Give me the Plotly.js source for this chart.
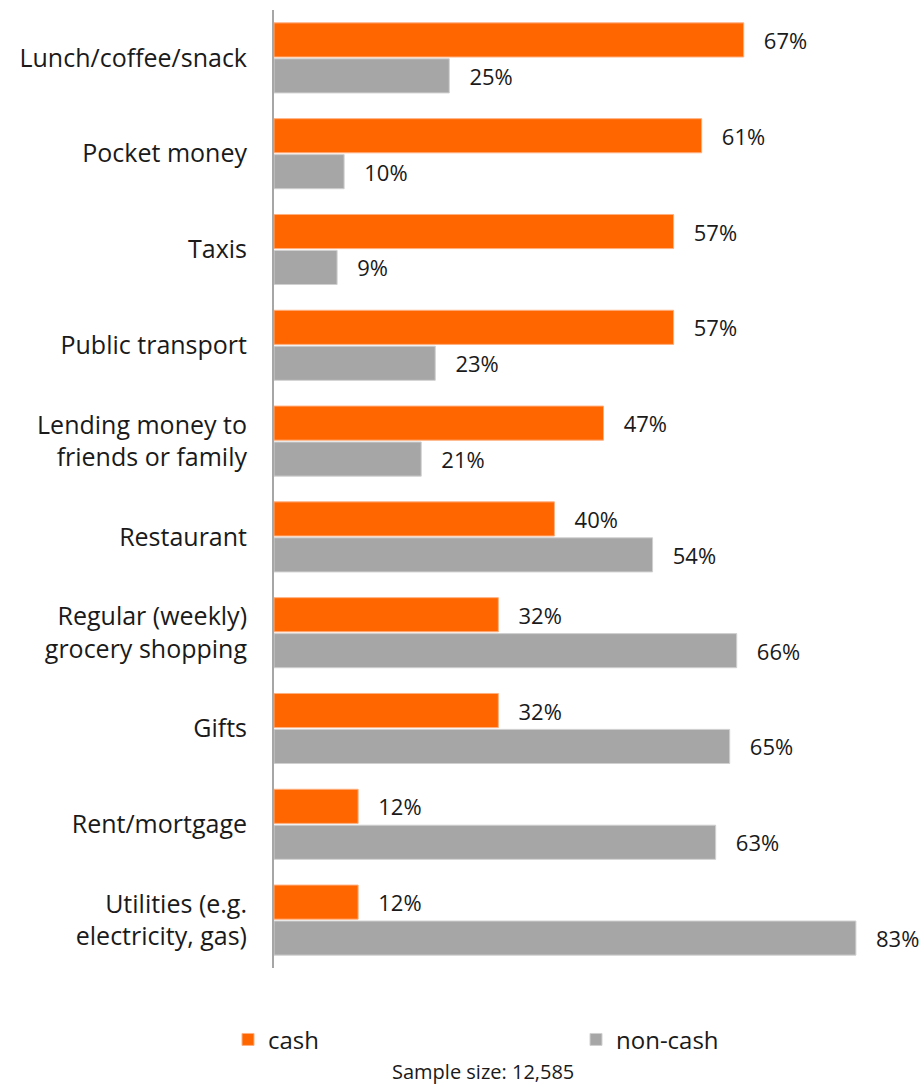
<!DOCTYPE html>
<html>
<head>
<meta charset="utf-8">
<script src="https://cdn.plot.ly/plotly-3.0.1.min.js"></script>
<style>html,body{margin:0;padding:0;background:#fff;}#chart{width:924px;height:1087px;}</style>
</head>
<body>
<div id="chart"></div>
<script>
const categories = [
  "Lunch/coffee/snack",
  "Pocket money",
  "Taxis",
  "Public transport",
  "Lending money to<br>friends or family",
  "Restaurant",
  "Regular (weekly)<br>grocery shopping",
  "Gifts",
  "Rent/mortgage",
  "Utilities (e.g.<br>electricity, gas)"
];
const cashValues = [67, 61, 57, 57, 47, 40, 32, 32, 12, 12];
const nonCashValues = [25, 10, 9, 23, 21, 54, 66, 65, 63, 83];
const seriesNames = ["cash", "non-cash"];
const note = "Sample size: 12,585";

const FONT = "'Open Sans', Lato, sans-serif";
const pad = "\u00a0\u00a0\u00a0";
const fmt = v => pad + v + "%";

const traces = [
  {
    type: "bar", orientation: "h", name: seriesNames[0],
    y: categories, x: cashValues,
    text: cashValues.map(fmt), textposition: "outside", cliponaxis: false,
    textfont: {family: FONT, size: 22, color: "#1a1a1a"},
    marker: {color: "#FF6600", line: {width: 1, color: "#FFB080"}},
    hoverinfo: "none"
  },
  {
    type: "bar", orientation: "h", name: seriesNames[1],
    y: categories, x: nonCashValues,
    text: nonCashValues.map(fmt), textposition: "outside", cliponaxis: false,
    textfont: {family: FONT, size: 22, color: "#1a1a1a"},
    marker: {color: "#A6A6A6", line: {width: 1, color: "#D0D0D0"}},
    hoverinfo: "none"
  }
];

const layout = {
  width: 924, height: 1087,
  margin: {l: 274, r: 5, t: 10, b: 119},
  paper_bgcolor: "#ffffff", plot_bgcolor: "#ffffff",
  font: {family: FONT, size: 24, color: "#1a1a1a"},
  barmode: "group", bargap: 0.25, bargroupgap: 0.05,
  showlegend: true,
  legend: {
    orientation: "h", x: -0.022, xanchor: "left", y: -0.075, yanchor: "middle",
    font: {family: FONT, size: 24, color: "#1a1a1a"},
    entrywidth: 303, entrywidthmode: "pixels", traceorder: "normal"
  },
  xaxis: {
    range: [0, 92], showgrid: false, zeroline: false, showline: false,
    showticklabels: false, ticks: ""
  },
  yaxis: {
    autorange: "reversed", showgrid: false, zeroline: false,
    showline: true, linecolor: "#A6A6A6", linewidth: 2,
    ticks: "outside", ticklen: 20, tickcolor: "rgba(0,0,0,0)",
    tickfont: {family: FONT, size: 25, color: "#1a1a1a"}
  },
  annotations: [{
    text: note, xref: "paper", yref: "paper", x: 0.324, y: -0.108,
    xanchor: "center", yanchor: "middle", showarrow: false,
    font: {family: FONT, size: 20, color: "#1a1a1a"}
  }]
};

Plotly.newPlot("chart", traces, layout, {staticPlot: true});
</script>
</body>
</html>
